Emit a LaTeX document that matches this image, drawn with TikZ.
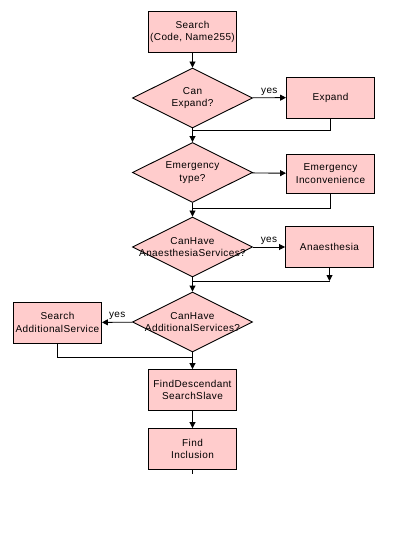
\documentclass[tikz,border=0pt]{standalone}
\usepackage{fontspec}
\setmainfont[LetterSpace=4]{Liberation Sans}
\usetikzlibrary{arrows.meta,shapes.geometric}
\definecolor{boxpink}{RGB}{255,204,204}
\tikzset{ %line width = 0.9pt,
  {box/.style}={rectangle, draw=black, fill=boxpink, line width=0.9pt,
                minimum width=88pt, minimum height=41pt, inner sep=0,
                align=center, font=\fontsize{10}{12.5}\selectfont},
  {decision/.style}={diamond, draw=black, fill=boxpink, line width=0.9pt,
                minimum width=120pt, minimum height=60pt, inner sep=0},
  {question/.style}={align=center, font=\fontsize{10}{12.5}\selectfont},
  {flow/.style}={draw, line width=0.9pt},
  {yes/.style}={above, inner sep=2pt, font=\fontsize{10}{12}\selectfont},
  >={Triangle[length=6pt,width=6pt]},
 }

\begin{document}
\begin{tikzpicture}[x=1pt,y=-1pt]
    \useasboundingbox (0,0) rectangle (400,540);
    \node[box] (search) at (192.5,32) {Search\\ (Code, Name255)};
    \node[decision] (canexp) at (192.5,98) {};
    \node[question] at (canexp) {Can\\ Expand?};
    \node[box] (expand) at (330.5,97.5) {Expand};
    \node[decision] (emtype) at (192.5,172.5) {};
    \node[question] at (emtype) {Emergency\\ type?};
    \node[box,minimum height=39pt] (emerg) at (330.5,173.5) {Emergency\\ Inconvenience};
    \node[decision] (canana) at (192.5,247) {};
    \node[question] at (canana) {CanHave\\ AnaesthesiaServices?};
    \node[box] (anaes) at (329.5,247) {Anaesthesia};
    \node[decision] (canadd) at (192.5,322) {};
    \node[question] at (canadd) {CanHave\\ AdditionalServices?};
    \node[box] (searchadd) at (57.5,322.5) {Search\\ AdditionalService};
    \node[box] (finddesc) at (192.5,390) {FindDescendant\\ SearchSlave};
    \node[box] (findinc) at (192.5,449) {Find\\ Inclusion};
    % joins
    \coordinate (j1) at (192.5,130);
    \coordinate (j2) at (192.5,208);
    \coordinate (j3) at (192.5,281);
    \coordinate (j4) at (192.5,357);
    \coordinate (tail) at (192.5,474);
    \draw[flow,->] (search) -- (canexp);
    \draw[flow,->] (canexp) -- node[yes] {yes} (expand);
    \draw[flow] (expand.south) |- (j1);
    \draw[flow,->] (canexp) -- (emtype);
    \draw[flow,->] (emtype) -- (emerg);
    \draw[flow] (emerg.south) |- (j2);
    \draw[flow,->] (emtype) -- (canana);
    \draw[flow,->] (canana) -- node[yes] {yes} (anaes);
    \draw[flow] (j3) -- (anaes.south |- j3);
    \draw[flow,->] (anaes.south) -- (anaes.south |- j3);
    \draw[flow,->] (canana) -- (canadd);
    \draw[flow,->] (canadd) -- node[yes] {yes} (searchadd);
    \draw[flow] (searchadd.south) |- (j4);
    \draw[flow,->] (canadd) -- (finddesc);
    \draw[flow,->] (finddesc) -- (findinc);
    \draw[flow] (findinc) -- (tail);
\end{tikzpicture}
\end{document}
